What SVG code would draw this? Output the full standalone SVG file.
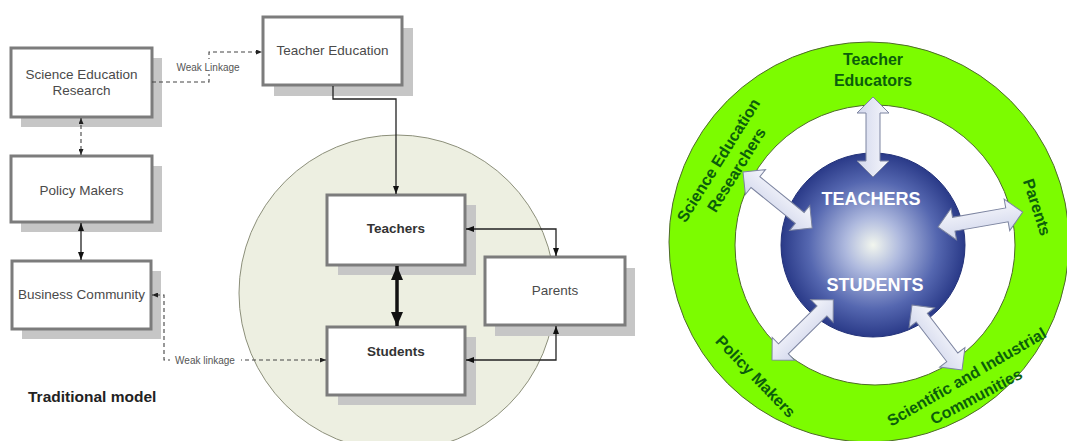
<svg xmlns="http://www.w3.org/2000/svg" width="1067" height="441" viewBox="0 0 1067 441">
<style>
.box{fill:#fff;stroke:#7c7c7c;stroke-width:3}
.shadow{fill:#c6c6c6}
.lbl{font-family:"Liberation Sans",Arial,sans-serif;font-size:13.5px;fill:#4a4a4a;text-anchor:middle}
.lblb{font-family:"Liberation Sans",Arial,sans-serif;font-size:13.5px;font-weight:bold;fill:#333;text-anchor:middle}
.small{font-family:"Liberation Sans",Arial,sans-serif;font-size:10px;fill:#555;text-anchor:middle}
.solid{fill:none;stroke:#222;stroke-width:1.3}
.dash{fill:none;stroke:#444;stroke-width:1.1;stroke-dasharray:4 3}
.ring{font-family:"Liberation Sans",Arial,sans-serif;font-size:16px;font-weight:bold;fill:#0b5e0b;text-anchor:middle}
.core{font-family:"Liberation Sans",Arial,sans-serif;font-size:18px;font-weight:bold;fill:#fff;text-anchor:middle}
.barrow{fill:url(#ag);stroke:#7c84a0;stroke-width:1}
</style>
<defs>
<marker id="ah" viewBox="0 0 8 6" refX="8" refY="3" markerWidth="8" markerHeight="6" markerUnits="userSpaceOnUse" orient="auto-start-reverse"><path d="M0,0 L8,3 L0,6 z" fill="#111"/></marker>
<marker id="ahs" viewBox="0 0 6 5" refX="6" refY="2.5" markerWidth="6" markerHeight="5" markerUnits="userSpaceOnUse" orient="auto-start-reverse"><path d="M0,0 L6,2.5 L0,5 z" fill="#222"/></marker>
<marker id="ahb" viewBox="0 0 14 12" refX="14" refY="6" markerWidth="14" markerHeight="12" markerUnits="userSpaceOnUse" orient="auto-start-reverse"><path d="M0,0 L14,6 L0,12 z" fill="#111"/></marker>
<radialGradient id="sg" cx="0.5" cy="0.5" r="0.5">
<stop offset="0" stop-color="#f2f6ee"/>
<stop offset="0.3" stop-color="#aeb9de"/>
<stop offset="0.7" stop-color="#5567b0"/>
<stop offset="1" stop-color="#2a3a88"/>
</radialGradient>
<linearGradient id="ag" x1="0" y1="0" x2="0" y2="1">
<stop offset="0" stop-color="#f6f7fc"/>
<stop offset="1" stop-color="#d2d7ec"/>
</linearGradient>
</defs>

<rect width="1067" height="441" fill="#fff"/>

<!-- left: traditional model -->
<g id="school-circle"><circle cx="397" cy="293" r="158" fill="#edefe1" stroke="#8c8f7a" stroke-width="1"/></g>

<g id="science-education-research">
<rect class="shadow" x="21" y="58" width="141" height="69"/>
<rect class="box" x="11" y="48" width="141" height="69"/>
<text class="lbl" x="81.5" y="79">Science Education</text>
<text class="lbl" x="81.5" y="95">Research</text>
</g>
<g id="policy-makers">
<rect class="shadow" x="21" y="166" width="141" height="66"/>
<rect class="box" x="11" y="156" width="141" height="66"/>
<text class="lbl" x="81.5" y="195">Policy Makers</text>
</g>
<g id="business-community">
<rect class="shadow" x="22" y="271" width="139" height="68"/>
<rect class="box" x="12" y="261" width="139" height="68"/>
<text class="lbl" x="81.5" y="299">Business Community</text>
</g>
<g id="teacher-education">
<rect class="shadow" x="274" y="28" width="139" height="68"/>
<rect class="box" x="263" y="17" width="139" height="68"/>
<text class="lbl" x="332.5" y="55">Teacher Education</text>
</g>
<g id="teachers">
<rect class="shadow" x="338" y="205" width="138" height="70"/>
<rect class="box" x="327" y="195" width="138" height="70"/>
<text class="lblb" x="396" y="233">Teachers</text>
</g>
<g id="students">
<rect class="shadow" x="338" y="337" width="138" height="68"/>
<rect class="box" x="327" y="327" width="138" height="68"/>
<text class="lblb" x="396" y="356">Students</text>
</g>
<g id="parents">
<rect class="shadow" x="495" y="268" width="140" height="68"/>
<rect class="box" x="485" y="257" width="140" height="68"/>
<text class="lbl" x="555" y="295">Parents</text>
</g>

<g id="connectors-left">
<path class="dash" d="M152,82 H209 V52 H262" marker-end="url(#ahs)"/>
<line class="dash" x1="81" y1="118" x2="81" y2="155" marker-start="url(#ahs)" marker-end="url(#ahs)"/>
<line class="solid" x1="81" y1="223" x2="81" y2="260" marker-start="url(#ah)" marker-end="url(#ah)"/>
<path class="dash" d="M326,360 H164 V295 H152" marker-start="url(#ahs)" marker-end="url(#ahs)"/>
<path class="solid" d="M333,86 V99 H396 V194" marker-end="url(#ah)"/>
<path class="solid" d="M466,229 H556 V256" marker-start="url(#ah)" marker-end="url(#ah)"/>
<path class="solid" d="M466,360 H556 V326" marker-start="url(#ah)" marker-end="url(#ah)"/>
<line x1="397" y1="266" x2="397" y2="326" stroke="#111" stroke-width="3.5" marker-start="url(#ahb)" marker-end="url(#ahb)"/>
<rect x="171" y="59" width="74" height="15" fill="#fff"/>
<text class="small" x="208" y="71">Weak Linkage</text>
<rect x="170" y="353" width="71" height="14" fill="#fff"/>
<text class="small" x="205" y="364">Weak linkage</text>
</g>

<g id="caption"><text x="28" y="402" font-family="Liberation Sans, Arial, sans-serif" font-size="15.5" font-weight="bold" fill="#222">Traditional model</text></g>

<!-- right: new model -->
<g id="outer-ring">
<circle cx="869" cy="242" r="200" fill="#7cfc00" stroke="#4f6a2c" stroke-width="1"/>
<circle cx="875" cy="245" r="140" fill="#fff" stroke="#4f6a2c" stroke-width="1"/>
</g>
<g id="core">
<circle cx="873" cy="245" r="92" fill="url(#sg)" stroke="#24337a" stroke-width="1"/>
<text class="core" x="871" y="205">TEACHERS</text>
<text class="core" x="875" y="291">STUDENTS</text>
</g>

<g id="teacher-educators"><text class="ring" x="873" y="65">Teacher</text><text class="ring" x="873" y="86">Educators</text></g>
<g id="science-education-researchers">
<text class="ring" transform="translate(718,160) rotate(-58)" y="6">Science Education</text>
<text class="ring" transform="translate(736,169.5) rotate(-58)" y="6">Researchers</text>
</g>
<g id="parents-ring"><text class="ring" transform="translate(1037.5,207) rotate(72)" y="6">Parents</text></g>
<g id="policy-makers-ring"><text class="ring" transform="translate(756,376) rotate(46)" y="6">Policy Makers</text></g>
<g id="scientific-communities">
<text class="ring" transform="translate(966.5,376.5) rotate(-30)" y="6">Scientific and Industrial</text>
<text class="ring" transform="translate(976,396) rotate(-28)" y="6">Communities</text>
</g>

<g id="connectors-right">
<polygon class="barrow" transform="translate(873,97) rotate(90)" points="0,0 16,-16 16,-7 64,-7 64,-16 80,0 64,16 64,7 16,7 16,16"/>
<polygon class="barrow" transform="translate(743,172) rotate(39)" points="0,0 16,-16 16,-7 73,-7 73,-16 89,0 73,16 73,7 16,7 16,16"/>
<polygon class="barrow" transform="translate(938,227) rotate(-10)" points="0,0 16,-16 16,-7 70,-7 70,-16 86,0 70,16 70,7 16,7 16,16"/>
<polygon class="barrow" transform="translate(772,360) rotate(-44.5)" points="0,0 16,-16 16,-7 70,-7 70,-16 86,0 70,16 70,7 16,7 16,16"/>
<polygon class="barrow" transform="translate(912,305) rotate(52.4)" points="0,0 16,-16 16,-7 66,-7 66,-16 82,0 66,16 66,7 16,7 16,16"/>
</g>
</svg>
